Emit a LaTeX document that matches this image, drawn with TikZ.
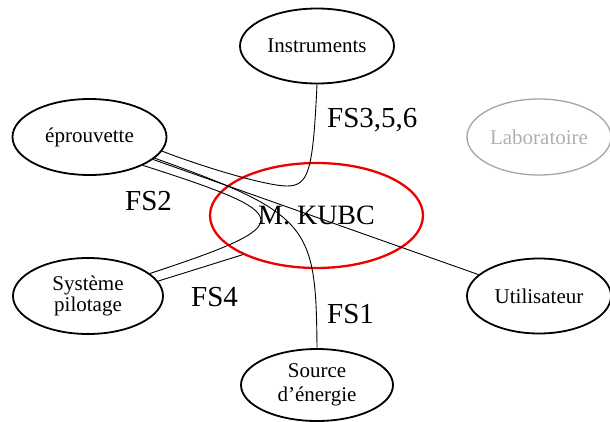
\documentclass[tikz,border=0pt]{standalone}
\usepackage{fontspec}
\setmainfont{Liberation Serif}
\usetikzlibrary{shapes.geometric}
\definecolor{labline}{RGB}{165,165,165}
\definecolor{labtext}{RGB}{175,175,175}
\definecolor{kred}{RGB}{238,0,0}
\begin{document}
\begin{tikzpicture}[x=1pt,y=-1pt,
  elli/.style={ellipse, draw, line width=1.8pt, inner sep=0pt, align=center,
    font=\fontsize{21}{23}\selectfont},
  conn/.style={line width=0.9pt},
  fslabel/.style={font=\fontsize{29}{31}\selectfont, anchor=base west, inner sep=0pt}]
\useasboundingbox (0,0) rectangle (610,421);
% nodes
\node[elli, minimum width=154pt, minimum height=75pt] (instr) at (317,46) {Instruments};
\node[elli, minimum width=154pt, minimum height=76pt] (ep) at (89.5,137) {éprouvette};
\node[elli, draw=labline, text=labtext, line width=1.3pt, minimum width=144pt, minimum height=76pt] (lab) at (539,137) {Laboratoire};
\node[ellipse, draw=kred, line width=2.3pt, inner sep=0pt, minimum width=213pt, minimum height=105pt,
  font=\fontsize{28}{30}\selectfont] (kubc) at (316.5,215.5) {M. KUBC};
\node[elli, minimum width=150pt, minimum height=76pt, font=\fontsize{21}{21}\selectfont] (sys) at (88,296) {Système\\pilotage};
\node[elli, minimum width=144pt, minimum height=75pt] (ut) at (539,296) {Utilisateur};
\node[elli, minimum width=152pt, minimum height=72pt, font=\fontsize{21}{24}\selectfont] (src) at (317,385) {Source\\d’énergie};
% connectors
\draw[conn] (instr.south) .. controls (313,170) and (309,186) .. (287,186)
  .. controls (266,186) and (200,166) .. (ep.-11);
\draw[conn] (ep) -- (ut);
\draw[conn] (ep.-18) .. controls (310,214) and (316,225) .. (src.north);
\draw[conn] (ep.-28) .. controls (298,215) and (300,224) .. (sys.20);
\draw[conn] (sys.12) -- (kubc.208);
% labels
\node[fslabel] (l356) at (327,127) {FS3,5,6};
\node[fslabel] (l2) at (125,210) {FS2};
\node[fslabel] (l4) at (191,306) {FS4};
\node[fslabel] (l1) at (327,323) {FS1};
\end{tikzpicture}
\end{document}
